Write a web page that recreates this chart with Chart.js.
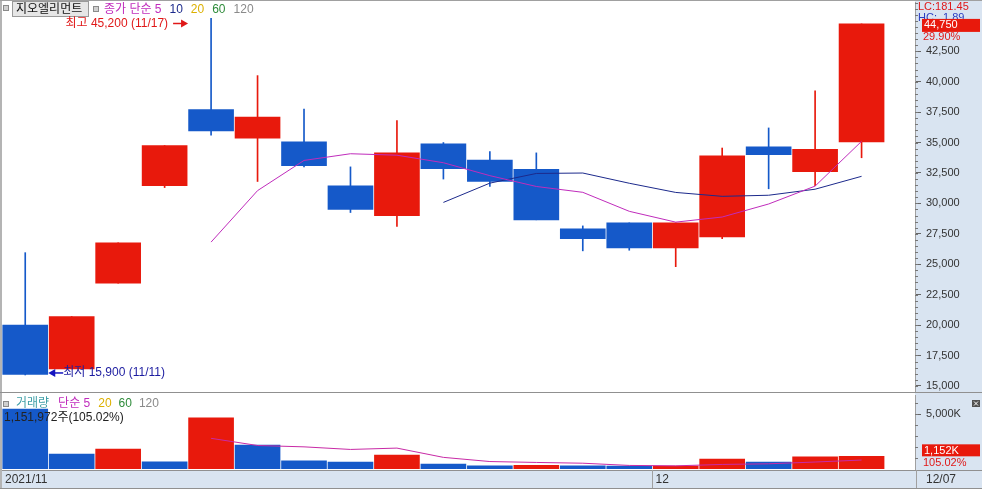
<!DOCTYPE html>
<html>
<head>
<meta charset="utf-8">
<script src="https://cdn.jsdelivr.net/npm/chart.js@4/dist/chart.umd.min.js"></script>
<style>
  html, body { margin: 0; padding: 0; background: #fff; }
  #wrap { position: relative; width: 982px; height: 489px; overflow: hidden; }
  canvas { position: absolute; left: 0; }
  #price { top: 0; }
  #vol { top: 393px; }
</style>
</head>
<body>
<div id="wrap">
  <canvas id="price" width="982" height="393"></canvas>
  <canvas id="vol" width="982" height="96"></canvas>
</div>
<script>
/* ---------- data ---------- */
const dates  = ['11/11','11/12','11/15','11/16','11/17','11/18','11/19','11/22','11/23','11/24',
                '11/25','11/26','11/29','11/30','12/01','12/02','12/03','12/06','12/07'];
const opens  = [20000,16400,23450,31450,37700,35350,35050,31450,29000,34900,
                33550,32800,27900,28400,26350,27250,34650,32600,35050];
const highs  = [25950,20700,26750,34750,45200,40500,37750,33000,36800,35000,
                34250,34150,28150,28400,28400,34550,36200,39250,44750];
const lows   = [15900,16400,23450,31300,35600,31800,33000,29250,28100,32000,
                31400,28650,26100,26150,24800,27100,31200,31450,33750];
const closes = [15950,20700,26750,34750,35950,37100,33100,29500,34150,32850,
                31800,28650,27100,26350,28400,33900,34000,34450,44750];
// 종가 단순 이동평균
const ma5  = [null,null,null,null,26820,31050,33530,34080,33960,33340,
              32280,31390,30910,29350,28460,28880,29950,31420,35100];
const ma10 = [null,null,null,null,null,null,null,null,null,30080,
              31665,32460,32495,31655,30900,30580,30670,31165,32225];
// 거래량 (주)
const volumes = [5450000,1360000,1820000,660000,4660000,2180000,750000,640000,1270000,450000,
                 280000,340000,290000,260000,270000,910000,640000,1096900,1151972];
const volMa5  = [null,null,null,null,2790000,2136000,2014000,1778000,1900000,1058000,
                 678000,596000,526000,324000,288000,414000,474000,635000,814000];
const priceTicks = [15000,17500,20000,22500,25000,27500,30000,32500,35000,37500,40000,42500];
const volTicks   = [5000000];

/* ---------- look ---------- */
const RED = '#e8190c', BLUE = '#1559c9', MAG = '#c02cbc', NAVY = '#1c2a8c';
const AXIS_BG = '#d9e4f1', EDGE = '#a0a0a0';
const F11 = '11px "Liberation Sans", "Noto Sans CJK KR", sans-serif';
const F12 = '12px "Liberation Sans", "Noto Sans CJK KR", sans-serif';
const last = closes.length - 1;

const pts = arr => arr.map((v, i) => v == null ? null : { x: i, y: v }).filter(Boolean);
const candleColor = closes.map((c, i) => c >= opens[i] ? RED : BLUE);
const volColor = volumes.map((v, i) => i > 0 && v >= volumes[i - 1] ? RED : BLUE);
const kilo = v => Math.round(v / 1000).toLocaleString('en-US') + 'K';

function put(ctx, s, x, y, color, font, align) {
  ctx.font = font || F12;
  ctx.fillStyle = color;
  ctx.textAlign = align || 'left';
  ctx.textBaseline = 'middle';
  ctx.fillText(s, x, y);
  return x + ctx.measureText(s).width;
}
function icon(ctx, x, y) {
  ctx.fillStyle = '#d0d0d0'; ctx.fillRect(x, y - 3, 6, 6);
  ctx.strokeStyle = '#8a8a8a'; ctx.lineWidth = 1; ctx.strokeRect(x + 0.5, y - 2.5, 5, 5);
}
function arrow(ctx, from, to, y, color) {
  const d = Math.sign(to - from);
  ctx.strokeStyle = color; ctx.fillStyle = color; ctx.lineWidth = 1.5;
  ctx.beginPath(); ctx.moveTo(from, y); ctx.lineTo(to - d * 6, y); ctx.stroke();
  ctx.beginPath(); ctx.moveTo(to, y); ctx.lineTo(to - d * 7, y - 4); ctx.lineTo(to - d * 7, y + 4);
  ctx.closePath(); ctx.fill();
}
function legendRow(ctx, items, x, y) {
  items.forEach(([s, c, gap]) => { x = put(ctx, s, x, y, c, F12) + gap; });
}
function paintBack(chart) {
  const { ctx, chartArea: a, width, height } = chart;
  ctx.save();
  ctx.fillStyle = '#fff'; ctx.fillRect(0, 0, width, height);
  ctx.fillStyle = AXIS_BG; ctx.fillRect(a.right, 0, width - a.right, height);
  ctx.restore();
}
function minorTicks(chart, from, to, step) {
  const { ctx, chartArea: a, scales: { y } } = chart;
  ctx.save();
  ctx.strokeStyle = '#777'; ctx.lineWidth = 1;
  for (let v = from; v <= to; v += step) {
    const py = Math.round(y.getPixelForValue(v)) + 0.5;
    ctx.beginPath(); ctx.moveTo(a.right, py); ctx.lineTo(a.right + 3, py); ctx.stroke();
  }
  ctx.restore();
}

/* ---------- price panel ---------- */
const priceDecor = {
  id: 'priceDecor',
  beforeDraw: paintBack,
  afterDraw(chart) {
    const { ctx, chartArea: a, width, height, scales: { x, y } } = chart;
    ctx.save();
    minorTicks(chart, 14500, 46500, 500);

    // legend
    icon(ctx, 3, 8);
    ctx.fillStyle = '#e6e6e6'; ctx.fillRect(12, 1, 77, 16);
    ctx.strokeStyle = '#9a9a9a'; ctx.lineWidth = 1; ctx.strokeRect(12.5, 1.5, 76, 15);
    put(ctx, '지오엘리먼트', 16, 9.5, '#111');
    icon(ctx, 93, 9);
    legendRow(ctx, [['종가 단순 5', MAG, 8], ['10', NAVY, 8], ['20', '#dcb000', 8],
                    ['60', '#2e8b3a', 8], ['120', '#8a8a8a', 0]], 104, 9.5);

    // 최고 / 최저
    const hi = highs.indexOf(Math.max(...highs));
    const tipHi = x.getPixelForValue(hi) - 23;
    put(ctx, `최고 ${highs[hi].toLocaleString('en-US')} (${dates[hi]})`, tipHi - 20, 23.5, '#e01818', F12, 'right');
    arrow(ctx, tipHi - 15, tipHi, 23.5, '#e01818');
    const lo = lows.indexOf(Math.min(...lows));
    const tipLo = x.getPixelForValue(lo) + 23;
    const yLo = y.getPixelForValue(lows[lo]) - 2;
    arrow(ctx, tipLo + 15, tipLo, yLo, '#1414c0');
    put(ctx, `최저 ${lows[lo].toLocaleString('en-US')} (${dates[lo]})`, tipLo + 15, yLo, '#1c1ca0', F12);

    // right axis labels
    const ax = a.right;
    put(ctx, 'LC:181.45', ax + 3, 7, '#e01818', F11);
    put(ctx, 'HC:  1.89', ax + 3, 18, '#2a3cc0', F11);
    const yL = y.getPixelForValue(closes[last]);
    ctx.fillStyle = RED; ctx.fillRect(ax + 7, yL - 5, 58, 13);
    put(ctx, closes[last].toLocaleString('en-US'), ax + 9, yL + 1.5, '#fff', F11);
    const pct = ((closes[last] / closes[last - 1] - 1) * 100).toFixed(2) + '%';
    put(ctx, pct, ax + 8, yL + 13, '#e01818', F11);

    // frame
    ctx.fillStyle = '#b4b4b4'; ctx.fillRect(0, 0, 2, height);
    ctx.strokeStyle = EDGE; ctx.lineWidth = 1;
    ctx.beginPath(); ctx.moveTo(0, 0.5); ctx.lineTo(width, 0.5); ctx.stroke();
    ctx.strokeStyle = '#909090';
    ctx.beginPath(); ctx.moveTo(0, height - 0.5); ctx.lineTo(width, height - 0.5); ctx.stroke();
    ctx.restore();
  }
};

new Chart(document.getElementById('price'), {
  type: 'bar',
  data: {
    datasets: [
      { type: 'line', data: pts(ma5), borderColor: MAG, borderWidth: 1, pointRadius: 0, tension: 0 },
      { type: 'line', data: pts(ma10), borderColor: NAVY, borderWidth: 1, pointRadius: 0, tension: 0 },
      { data: dates.map((d, i) => ({ x: i, y: [opens[i], closes[i]] })),
        backgroundColor: candleColor, barThickness: 45, grouped: false },
      { data: dates.map((d, i) => ({ x: i, y: [lows[i], highs[i]] })),
        backgroundColor: candleColor, barThickness: 1, grouped: false }
    ]
  },
  options: {
    responsive: false, animation: false, devicePixelRatio: 1, events: [],
    layout: { padding: { left: 2, top: 2, right: 0, bottom: 1 } },
    plugins: { legend: { display: false }, tooltip: { enabled: false } },
    scales: {
      x: { type: 'linear', min: -0.5, max: 19.15, offset: false, display: false },
      y: {
        position: 'right', min: 14500, max: 46550, beginAtZero: false,
        afterBuildTicks: s => { s.ticks = priceTicks.map(v => ({ value: v })); },
        afterFit: s => { s.width = 67; s.paddingTop = 0; s.paddingBottom = 0; },
        grid: { drawOnChartArea: false, drawTicks: true, tickLength: 6, color: '#666' },
        border: { display: true, color: EDGE },
        ticks: { color: '#333', font: { family: '"Liberation Sans"', size: 11 }, padding: 5,
                 autoSkip: false, callback: v => v.toLocaleString('en-US') }
      }
    }
  },
  plugins: [priceDecor]
});

/* ---------- volume panel ---------- */
const volDecor = {
  id: 'volDecor',
  beforeDraw: paintBack,
  afterDraw(chart) {
    const { ctx, chartArea: a, width, height, scales: { x, y } } = chart;
    ctx.save();
    minorTicks(chart, 1000000, 6000000, 1000000);

    const vp = ((volumes[last] / volumes[last - 1]) * 100).toFixed(2) + '%';

    // legend
    icon(ctx, 3, 11);
    legendRow(ctx, [['거래량', '#3e9ea6', 9], ['단순 5', MAG, 8], ['20', '#dcb000', 7],
                    ['60', '#2e8b3a', 7], ['120', '#8a8a8a', 0]], 16, 11);
    put(ctx, `${volumes[last].toLocaleString('en-US')}주(${vp})`, 4, 25, '#222', F12);

    // close box
    ctx.fillStyle = '#505050'; ctx.fillRect(972, 7, 8, 7);
    ctx.strokeStyle = '#fff'; ctx.lineWidth = 1;
    ctx.beginPath(); ctx.moveTo(974, 8.5); ctx.lineTo(978, 12.5); ctx.moveTo(978, 8.5); ctx.lineTo(974, 12.5); ctx.stroke();

    const ax = a.right;
    const yV = y.getPixelForValue(volumes[last]);
    ctx.fillStyle = RED; ctx.fillRect(ax + 7, yV - 12, 58, 12);
    put(ctx, kilo(volumes[last]), ax + 9, yV - 5.5, '#fff', F11);
    put(ctx, vp, ax + 8, yV + 7, '#e01818', F11);

    // date strip
    const top = a.bottom + 1;
    ctx.fillStyle = AXIS_BG; ctx.fillRect(0, top, width, height - top);
    ctx.strokeStyle = '#909090'; ctx.lineWidth = 1;
    ctx.beginPath(); ctx.moveTo(0, top + 0.5); ctx.lineTo(width, top + 0.5); ctx.stroke();
    ctx.strokeStyle = EDGE;
    ctx.beginPath(); ctx.moveTo(ax + 1.5, top); ctx.lineTo(ax + 1.5, height); ctx.stroke();
    const ty = top + 10;
    put(ctx, '2021/' + dates[0].slice(0, 2), 5, ty, '#333', F12);
    dates.forEach((d, i) => {
      if (i > 0 && d.slice(0, 2) !== dates[i - 1].slice(0, 2)) {
        const bx = Math.round(x.getPixelForValue(i - 0.5)) + 0.5;
        ctx.beginPath(); ctx.moveTo(bx, top); ctx.lineTo(bx, height); ctx.stroke();
        put(ctx, String(+d.slice(0, 2)), bx + 3, ty, '#333', F12);
      }
    });
    put(ctx, dates[last], ax + 11, ty, '#333', F12);

    ctx.fillStyle = '#b4b4b4'; ctx.fillRect(0, 0, 2, height);
    ctx.strokeStyle = '#909090';
    ctx.beginPath(); ctx.moveTo(0, height - 0.5); ctx.lineTo(width, height - 0.5); ctx.stroke();
    ctx.restore();
  }
};

new Chart(document.getElementById('vol'), {
  type: 'bar',
  data: {
    datasets: [
      { type: 'line', data: pts(volMa5), borderColor: '#c82aa6', borderWidth: 1, pointRadius: 0, tension: 0 },
      { data: dates.map((d, i) => ({ x: i, y: volumes[i] })),
        backgroundColor: volColor, barThickness: 45, grouped: false }
    ]
  },
  options: {
    responsive: false, animation: false, devicePixelRatio: 1, events: [],
    layout: { padding: { left: 2, top: 2, right: 0, bottom: 20 } },
    plugins: { legend: { display: false }, tooltip: { enabled: false } },
    scales: {
      x: { type: 'linear', min: -0.5, max: 19.15, offset: false, display: false },
      y: {
        position: 'right', min: 0, max: 6730000, beginAtZero: false,
        afterBuildTicks: s => { s.ticks = volTicks.map(v => ({ value: v })); },
        afterFit: s => { s.width = 67; s.paddingTop = 0; s.paddingBottom = 0; },
        grid: { drawOnChartArea: false, drawTicks: true, tickLength: 6, color: '#666' },
        border: { display: true, color: EDGE },
        ticks: { color: '#333', font: { family: '"Liberation Sans"', size: 11 }, padding: 5,
                 callback: v => kilo(v) }
      }
    }
  },
  plugins: [volDecor]
});
</script>
</body>
</html>
